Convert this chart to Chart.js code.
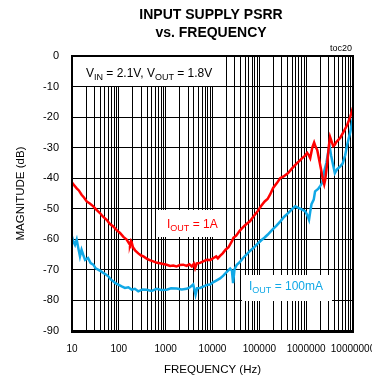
<!DOCTYPE html>
<html lang="en">
<head>
<meta charset="UTF-8">
<title>Input Supply PSRR vs. Frequency</title>
<script src="https://cdn.jsdelivr.net/npm/chart.js@4"></script>
<style>
    html, body { margin: 0; padding: 0; background: #fff; }
    canvas { display: block; }
</style>
</head>
<body>
<canvas id="psrrChart" width="372" height="381"></canvas>
<script>
    // IOUT = 1A
    const freq1A = [10, 11, 12.6, 14, 16, 18, 20.6, 24, 28.5, 33, 39.5, 46, 55, 64, 76, 90, 106, 125, 147, 165,
        173, 182, 188, 200, 222, 260, 300, 335, 400, 470, 545, 650, 750, 890, 1050, 1250, 1450, 1700, 2000, 2370,
        2800, 3200, 3620, 4000, 4250, 4600, 5430, 6500, 7600, 8900, 10500, 12000, 13000, 14500, 16500, 19000,
        22000, 26000, 28000, 32000, 38000, 45000, 53000, 63000, 75000, 90000, 110000, 130000, 150000, 170000,
        197000, 237000, 278000, 330000, 412000, 500000, 643000, 720000, 822000, 950000, 1050000, 1150000,
        1220000, 1350000, 1480000, 1600000, 1720000, 1900000, 2100000, 2250000, 2430000, 2550000, 2820000,
        3050000, 3240000, 3500000, 3780000, 4100000, 4370000, 5320000, 6200000, 7500000, 8700000, 10000000];
    const db1A = [-41.4, -42.2, -43.3, -44.0, -45.4, -46.3, -47.6, -48.3, -49.2, -50.3, -51.4, -52.6, -53.6, -54.9,
        -55.8, -57.0, -57.9, -59.2, -60.1, -61.3, -61.8, -60.6, -61.0, -62.6, -63.6, -64.6, -65.3, -65.6, -66.4,
        -66.9, -67.2, -67.7, -67.8, -68.1, -68.3, -68.7, -68.6, -68.9, -68.4, -68.3, -68.7, -68.2, -68.9, -68.0,
        -69.4, -67.9, -67.7, -67.1, -66.7, -66.8, -66.1, -65.6, -66.2, -65.4, -64.6, -63.4, -62.6, -60.6, -59.5,
        -58.8, -57.2, -56.0, -55.0, -54.1, -52.5, -51.0, -49.0, -47.6, -46.8, -45.3, -43.2, -41.6, -40.0, -39.4,
        -38.3, -36.8, -35.0, -34.3, -33.4, -32.6, -31.7, -32.6, -33.4, -30.0, -28.3, -29.8, -30.7, -34.0, -37.5,
        -40.0, -42.0, -40.5, -35.0, -29.5, -26.5, -28.0, -29.5, -29.0, -28.2, -26.8, -25.0, -22.6, -20.0, -16.8];

    // IOUT = 100mA
    const freq100mA = [10, 10.7, 11.6, 12.6, 13.6, 14.8, 16, 17.5, 19, 22, 25, 28.5, 32, 36, 41, 46.6, 53, 59.6,
        68, 76, 86, 97.5, 115, 135, 160, 188, 220, 260, 320, 395, 500, 645, 800, 1050, 1300, 1720, 2200, 2800,
        3300, 3870, 4100, 4350, 4700, 5430, 6500, 7600, 8900, 10500, 12000, 14500, 17000, 20000, 23800, 26000,
        27500, 29500, 33000, 38000, 45000, 53000, 63000, 75000, 90000, 110000, 130000, 150000, 188000, 230000,
        278000, 340000, 412000, 500000, 582000, 700000, 822000, 950000, 1050000, 1150000, 1220000, 1300000,
        1450000, 1550000, 1800000, 2000000, 2200000, 2450000, 2700000, 2950000, 3150000, 3400000, 3800000,
        4100000, 4600000, 5300000, 6000000, 6800000, 7500000, 8700000, 10000000];
    const db100mA = [-59.1, -60.7, -61.8, -60.1, -62.8, -65.6, -63.4, -65.2, -66.7, -66.1, -67.8, -68.3, -69.5,
        -69.9, -70.4, -71.0, -71.5, -72.1, -73.2, -73.7, -74.4, -74.8, -75.4, -75.9, -75.7, -76.5, -76.2, -77.0,
        -76.4, -76.5, -76.9, -76.2, -76.6, -76.5, -76.0, -76.1, -76.4, -76.2, -75.7, -74.8, -76.3, -78.1, -76.0,
        -75.9, -75.4, -74.9, -74.8, -74.0, -73.5, -72.8, -71.9, -70.7, -69.6, -70.3, -74.3, -69.8, -68.3, -67.5,
        -66.1, -65.0, -63.8, -62.8, -61.6, -60.3, -59.4, -58.5, -56.9, -55.6, -54.2, -52.6, -51.4, -50.1, -49.2,
        -49.8, -50.3, -50.8, -52.0, -53.6, -51.0, -48.5, -47.0, -44.3, -43.5, -42.5, -41.5, -37.5, -35.0, -31.5,
        -29.3, -32.5, -36.0, -38.3, -37.0, -36.2, -35.2, -32.5, -29.1, -25.0, -20.2];

    const yTicks = [0, -10, -20, -30, -40, -50, -60, -70, -80, -90];
    const xTickLabels = ['10', '100', '1000', '10000', '100000', '1000000', '10000000'];
    const xTickValues = xTickLabels.map(Number);

    // grid at 1..9 of every decade
    const xGrid = [];
    xTickValues.forEach((d, i) => {
        if (i === xTickValues.length - 1) { xGrid.push(d); return; }
        for (let k = 1; k <= 9; k++) xGrid.push(k * d);
    });

    const FONT = "'Liberation Sans', Arial, sans-serif";
    const RED = '#ff0000';
    const BLUE = '#10a8e6';

    const toPoints = (xs, ys) => xs.map((x, i) => ({ x: x, y: ys[i] }));

    // text with subscripts: parts = [[text, isSub], ...]
    function drawRich(ctx, parts, x, y, color, size) {
        ctx.fillStyle = color;
        ctx.textAlign = 'left';
        ctx.textBaseline = 'alphabetic';
        parts.forEach(p => {
            const sub = p[1];
            ctx.font = (sub ? size * 0.75 : size) + 'px ' + FONT;
            ctx.fillText(p[0], x, sub ? y + 3 : y);
            x += ctx.measureText(p[0]).width;
        });
    }

    function whiteBox(ctx, x0, y0, x1, y1) {
        ctx.fillStyle = '#fff';
        ctx.fillRect(x0, y0, x1 - x0, y1 - y0);
    }

    const labelsPlugin = {
        id: 'psrrLabels',
        beforeDatasetsDraw(chart) {
            const ctx = chart.ctx;
            ctx.save();
            whiteBox(ctx, 73, 57, 217, 86);
            drawRich(ctx, [['V', false], ['IN', true], [' = 2.1V, V', false], ['OUT', true], [' = 1.8V', false]], 86, 77, '#000', 12);
            whiteBox(ctx, 157, 210, 222, 237);
            drawRich(ctx, [['I', false], ['OUT', true], [' = 1A', false]], 167, 228, RED, 12);
            whiteBox(ctx, 242, 275, 332, 301);
            drawRich(ctx, [['I', false], ['OUT', true], [' = 100mA', false]], 249, 290, BLUE, 12);
            ctx.restore();
        },
        afterDraw(chart) {
            const ctx = chart.ctx;
            const a = chart.chartArea;
            ctx.save();
            // plot frame
            ctx.strokeStyle = '#000';
            ctx.lineWidth = 2;
            ctx.strokeRect(a.left, a.top, a.right - a.left, a.bottom - a.top);
            ctx.lineWidth = 3;
            ctx.beginPath();
            ctx.moveTo(a.left - 1, a.bottom + 0.5);
            ctx.lineTo(a.right + 1, a.bottom + 0.5);
            ctx.stroke();
            // title
            ctx.fillStyle = '#000';
            ctx.textAlign = 'center';
            ctx.textBaseline = 'middle';
            ctx.font = 'bold 14px ' + FONT;
            ctx.fillText('INPUT SUPPLY PSRR', 211, 15);
            ctx.fillText('vs. FREQUENCY', 211, 33);
            ctx.font = '9px ' + FONT;
            ctx.textAlign = 'right';
            ctx.fillText('toc20', 352, 49);
            ctx.restore();
        }
    };

    new Chart(document.getElementById('psrrChart'), {
        type: 'scatter',
        data: {
            datasets: [{
                label: 'IOUT = 1A',
                data: toPoints(freq1A, db1A),
                showLine: true,
                borderColor: RED,
                borderWidth: 2.5,
                pointRadius: 0,
                tension: 0
            }, {
                label: 'IOUT = 100mA',
                data: toPoints(freq100mA, db100mA),
                showLine: true,
                borderColor: BLUE,
                borderWidth: 2.5,
                pointRadius: 0,
                tension: 0
            }]
        },
        options: {
            responsive: false,
            animation: false,
            devicePixelRatio: 1,
            layout: { padding: { top: 56, right: 19, left: 0, bottom: 0 } },
            plugins: {
                legend: { display: false },
                tooltip: { enabled: false }
            },
            scales: {
                x: {
                    type: 'logarithmic',
                    min: 10,
                    max: 10000000,
                    afterBuildTicks: scale => { scale.ticks = xGrid.map(v => ({ value: v })); },
                    afterFit: scale => { scale.height = 50; scale.paddingLeft = 0; scale.paddingRight = 0; },
                    ticks: {
                        autoSkip: false,
                        maxRotation: 0,
                        padding: 12,
                        color: '#000',
                        font: { family: FONT, size: 10 },
                        callback: value => {
                            const i = xTickValues.indexOf(value);
                            return i >= 0 ? xTickLabels[i] : '';
                        }
                    },
                    grid: { color: '#000', lineWidth: 1, drawTicks: false },
                    border: { display: false },
                    title: {
                        display: true,
                        text: 'FREQUENCY (Hz)',
                        color: '#000',
                        font: { family: FONT, size: 11.5 },
                        padding: { top: 0, bottom: 4 }
                    }
                },
                y: {
                    min: -90,
                    max: 0,
                    afterBuildTicks: scale => { scale.ticks = yTicks.map(v => ({ value: v })); },
                    afterFit: scale => { scale.width = 72; },
                    ticks: {
                        padding: 13,
                        color: '#000',
                        font: { family: FONT, size: 11 }
                    },
                    grid: { color: '#000', lineWidth: 1, drawTicks: false },
                    border: { display: false },
                    title: {
                        display: true,
                        text: 'MAGNITUDE (dB)',
                        color: '#000',
                        font: { family: FONT, size: 11.5 },
                        padding: { top: 14, bottom: 0 }
                    }
                }
            }
        },
        plugins: [labelsPlugin]
    });
</script>
</body>
</html>
